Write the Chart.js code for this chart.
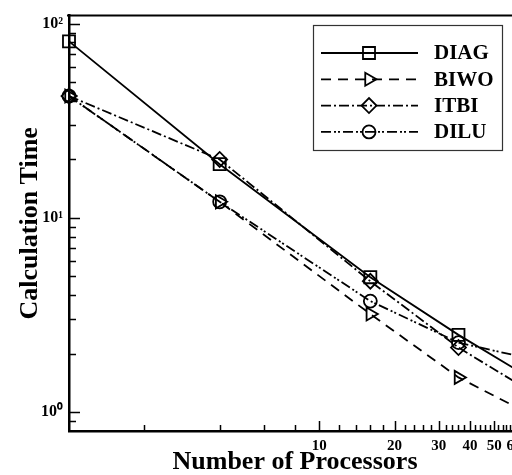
<!DOCTYPE html>
<html>
<head>
<meta charset="utf-8">
<script src="https://cdn.jsdelivr.net/npm/chart.js@4/dist/chart.umd.min.js"></script>
<style>
  html, body { margin: 0; padding: 0; background: #fff; overflow: hidden; }
</style>
</head>
<body>
<canvas id="chart" width="540" height="475"></canvas>
<script>
// ─── Data ──────────────────────────────────────────────────────
const processors = [1, 4, 16, 36, 64];
const diag = [81, 18.9, 4.95, 2.5, 1.6];
const biwo = [42.4, 12.1, 3.2, 1.51, 1.03];
const itbi = [42.4, 20, 4.72, 2.15, 1.37];
const dilu = [42.4, 12.1, 3.73, 2.28, 1.93];

const xTicks = [2, 4, 6, 8, 10, 12, 14, 16, 18, 20, 22, 24, 26, 28, 30, 32, 34, 36, 38,
                40, 42, 44, 46, 48, 50, 52, 54, 56, 58, 60, 62, 64];
const xMajor = [10, 20, 30, 40, 50, 60];
const yTicks = [0.9, 1, 2, 3, 4, 5, 6, 7, 8, 9, 10, 20, 30, 40, 50, 60, 70, 80, 90, 100];
const yMajor = [1, 10, 100];
const yLabels = { 1: '10⁰', 10: '10¹', 100: '10²' };

const FONT = '"Liberation Serif", "Times New Roman", serif';

function pts(ys) {
    return processors.map((x, i) => ({ x, y: ys[i] }));
}

const common = {
    borderColor: '#000',
    borderWidth: 1.8,
    pointBorderColor: '#000',
    pointBackgroundColor: 'rgba(0,0,0,0)',
    pointBorderWidth: 1.8,
    tension: 0,
    clip: { left: 12, top: 0, right: 0, bottom: 0 }
};

// inward tick marks + top frame line, positioned by the chart's own scales
const innerTicks = {
    id: 'innerTicks',
    afterDraw(chart) {
        const { ctx, chartArea: a, scales: { x, y } } = chart;
        ctx.save();
        ctx.strokeStyle = '#000';
        ctx.lineWidth = 1.5;
        ctx.beginPath();
        x.ticks.forEach(t => {
            const px = Math.round(x.getPixelForValue(t.value)) + 0.5;
            const len = xMajor.includes(t.value) ? 10 : 6;
            ctx.moveTo(px, a.bottom);
            ctx.lineTo(px, a.bottom - len);
        });
        y.ticks.forEach(t => {
            const py = Math.round(y.getPixelForValue(t.value)) + 0.5;
            const len = yMajor.includes(t.value) ? 11 : 7;
            ctx.moveTo(a.left, py);
            ctx.lineTo(a.left + len, py);
        });
        ctx.stroke();
        ctx.lineWidth = 2;
        ctx.beginPath();
        ctx.moveTo(a.left - 2, a.top);
        ctx.lineTo(a.right, a.top);
        ctx.stroke();
        ctx.restore();
    }
};

// boxed legend: line sample with the marker in the middle, label to the right
const boxLegend = {
    id: 'boxLegend',
    afterDraw(chart) {
        const { ctx } = chart;
        ctx.save();
        ctx.fillStyle = '#fff';
        ctx.fillRect(313, 25, 190, 126);
        ctx.strokeStyle = '#333';
        ctx.lineWidth = 1.2;
        ctx.strokeRect(313.5, 25.5, 189, 125);

        chart.data.datasets.forEach((ds, i) => {
            const yy = 53 + i * 26.3;
            ctx.strokeStyle = '#000';
            ctx.lineWidth = ds.borderWidth;
            ctx.setLineDash(ds.borderDash || []);
            ctx.beginPath();
            ctx.moveTo(321, yy);
            ctx.lineTo(418, yy);
            ctx.stroke();
            ctx.setLineDash([]);
            ctx.fillStyle = 'rgba(0,0,0,0)';
            ctx.lineWidth = ds.pointBorderWidth;
            Chart.helpers.drawPoint(ctx, {
                pointStyle: ds.pointStyle,
                rotation: ds.pointRotation || 0,
                radius: ds.pointRadius,
                borderWidth: ds.pointBorderWidth
            }, 369, yy);

            ctx.fillStyle = '#000';
            ctx.font = 'bold 21px ' + FONT;
            ctx.textBaseline = 'middle';
            ctx.textAlign = 'left';
            ctx.fillText(ds.label, 434, yy + 1);
        });
        ctx.restore();
    }
};

new Chart(document.getElementById('chart'), {
    type: 'line',
    data: {
        datasets: [
            { label: 'DIAG', data: pts(diag), borderDash: [], pointStyle: 'rect', pointRadius: 8.5, ...common },
            { label: 'BIWO', data: pts(biwo), borderDash: [10, 7], pointStyle: 'triangle', pointRotation: 90, pointRadius: 7.5, ...common },
            { label: 'ITBI', data: pts(itbi), borderDash: [10, 3, 2, 3], pointStyle: 'rectRot', pointRadius: 7.5, ...common },
            { label: 'DILU', data: pts(dilu), borderDash: [10, 3, 2, 2, 2, 3], pointStyle: 'circle', pointRadius: 6.5, ...common }
        ]
    },
    options: {
        responsive: false,
        animation: false,
        layout: { padding: { top: 12, right: 19, left: 0, bottom: 0 } },
        plugins: {
            legend: { display: false },
            tooltip: { enabled: false }
        },
        scales: {
            x: {
                type: 'logarithmic',
                position: 'bottom',
                min: 1,
                max: 64,
                afterBuildTicks: s => { s.ticks = xTicks.map(v => ({ value: v })); },
                afterFit: s => { s.height = 44; },
                grid: { display: false, drawTicks: false },
                border: { display: true, color: '#000', width: 2.5 },
                ticks: {
                    autoSkip: false,
                    maxRotation: 0,
                    padding: 6,
                    color: '#000',
                    font: { family: FONT, weight: 'bold', size: 15 },
                    callback: v => xMajor.includes(v) ? String(v) : ''
                },
                title: {
                    display: true,
                    text: 'Number of Processors',
                    color: '#000',
                    font: { family: FONT, weight: 'bold', size: 26, lineHeight: 1 },
                    padding: { top: 0, bottom: 0 }
                }
            },
            y: {
                type: 'logarithmic',
                min: 0.8,
                max: 110,
                afterBuildTicks: s => { s.ticks = yTicks.map(v => ({ value: v })); },
                afterFit: s => { s.width = 69; },
                grid: { display: false, drawTicks: false },
                border: { display: true, color: '#000', width: 2.5 },
                ticks: {
                    autoSkip: false,
                    padding: 6,
                    color: '#000',
                    font: { family: FONT, weight: 'bold', size: 16 },
                    callback: v => yLabels[v] || ''
                },
                title: {
                    display: true,
                    text: 'Calculation Time',
                    color: '#000',
                    font: { family: FONT, weight: 'bold', size: 26, lineHeight: 1 },
                    padding: { top: 17, bottom: 0 }
                }
            }
        }
    },
    plugins: [innerTicks, boxLegend]
});
</script>
</body>
</html>
